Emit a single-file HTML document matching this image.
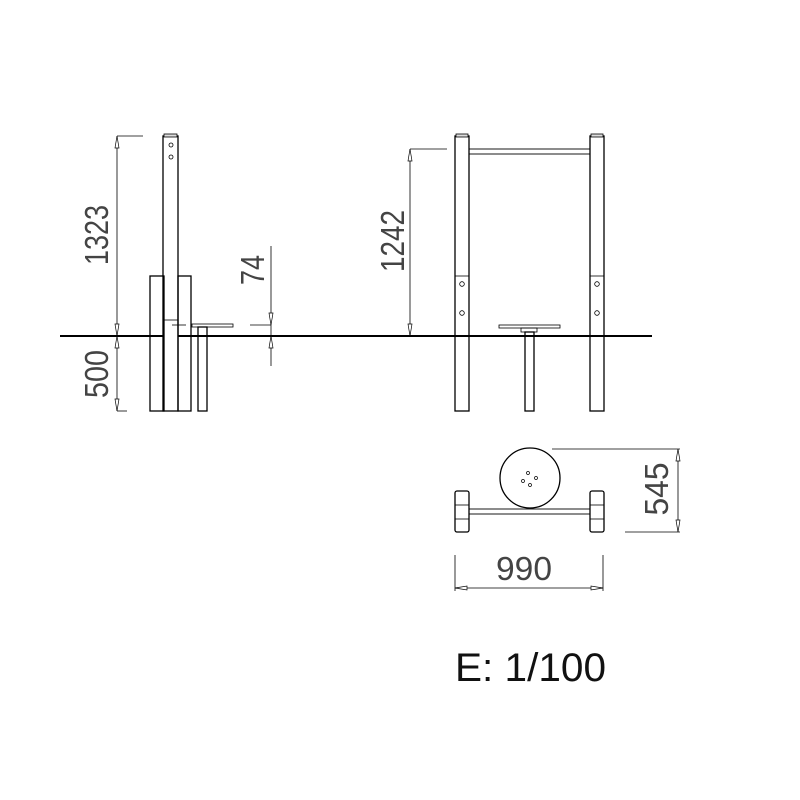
<!DOCTYPE html>
<html><head><style>body{margin:0;background:#fff}svg{display:block}</style></head><body>
<svg width="800" height="800" viewBox="0 0 800 800" xmlns="http://www.w3.org/2000/svg" font-family="Liberation Sans, sans-serif">
<g fill="none" stroke="#000" stroke-width="1.3">
<line x1="60" y1="336" x2="652" y2="336" stroke-width="2"/>
<rect x="163" y="136" width="15" height="275" fill="#fff"/>
<rect x="164" y="134" width="13" height="3" fill="#ddd" stroke-width="0.8"/>
<circle cx="171" cy="145" r="2" stroke-width="0.8"/><circle cx="171" cy="157" r="2" stroke-width="0.8"/>
<rect x="150" y="276" width="14" height="135"/>
<rect x="178" y="276" width="13" height="135"/>
<line x1="164" y1="320" x2="178" y2="320" stroke-width="0.8"/>
<line x1="172" y1="325" x2="186" y2="325" stroke-width="0.8"/>
<rect x="192" y="324" width="41" height="3" stroke-width="0.8"/>
<rect x="198" y="327" width="9" height="84"/>
<line x1="117" y1="136" x2="117" y2="411" stroke-width="0.8"/>
<line x1="117" y1="136" x2="143" y2="136" stroke-width="0.8"/>
<line x1="117" y1="411" x2="127" y2="411" stroke-width="0.8"/>
<line x1="271" y1="246" x2="271" y2="366" stroke-width="0.8"/>
<line x1="250" y1="325" x2="271" y2="325" stroke-width="0.8"/>
<rect x="455" y="136" width="14" height="275"/>
<rect x="590" y="136" width="14" height="275"/>
<rect x="456" y="134" width="12" height="3" fill="#ddd" stroke-width="0.8"/>
<rect x="591" y="134" width="12" height="3" fill="#ddd" stroke-width="0.8"/>
<rect x="469" y="149" width="121" height="5" stroke-width="0.9"/>
<line x1="455" y1="276" x2="469" y2="276" stroke-width="0.8"/>
<line x1="590" y1="276" x2="604" y2="276" stroke-width="0.8"/>
<circle cx="462" cy="284" r="2.3" stroke-width="0.8"/><circle cx="462" cy="313" r="2.3" stroke-width="0.8"/>
<circle cx="597" cy="284" r="2.3" stroke-width="0.8"/><circle cx="597" cy="313" r="2.3" stroke-width="0.8"/>
<rect x="499" y="325" width="61" height="3" stroke-width="0.8"/>
<rect x="521" y="328" width="16" height="4" stroke-width="0.8"/>
<rect x="525" y="332" width="9" height="79"/>
<line x1="410" y1="149" x2="410" y2="336" stroke-width="0.8"/>
<line x1="410" y1="149" x2="447" y2="149" stroke-width="0.8"/>
<circle cx="530" cy="478" r="30"/>
<circle cx="528" cy="473" r="1.5" stroke-width="0.7"/><circle cx="536" cy="478" r="1.5" stroke-width="0.7"/>
<circle cx="523" cy="481" r="1.5" stroke-width="0.7"/><circle cx="530" cy="485" r="1.5" stroke-width="0.7"/>
<rect x="455" y="491" width="14" height="41" rx="2"/>
<rect x="590" y="491" width="14" height="41" rx="2"/>
<rect x="455" y="505" width="14" height="14" stroke-width="0.8"/>
<rect x="590" y="505" width="14" height="14" stroke-width="0.8"/>
<rect x="469" y="509" width="121" height="5" stroke-width="0.9"/>
<line x1="552" y1="449" x2="680" y2="449" stroke-width="0.8"/>
<line x1="625" y1="532" x2="680" y2="532" stroke-width="0.8"/>
<line x1="678" y1="449" x2="678" y2="532" stroke-width="0.8"/>
<line x1="455" y1="555" x2="455" y2="591" stroke-width="0.8"/>
<line x1="603" y1="555" x2="603" y2="591" stroke-width="0.8"/>
<line x1="455" y1="588" x2="603" y2="588" stroke-width="0.8"/>
</g>
<g fill="#fff" stroke="#000" stroke-width="0.7">
<polygon points="117,136 115,148 119,148"/><polygon points="117,336 115,324 119,324"/>
<polygon points="117,336 115,348 119,348"/><polygon points="117,411 115,399 119,399"/>
<polygon points="271,325 269,313 273,313"/><polygon points="271,336 269,348 273,348"/>
<polygon points="410,149 408,161 412,161"/><polygon points="410,336 408,324 412,324"/>
<polygon points="678,449 676,461 680,461"/><polygon points="678,532 676,520 680,520"/>
<polygon points="455,588 467,586 467,590"/><polygon points="603,588 591,586 591,590"/>
</g>
<g fill="#444" font-size="33" lengthAdjust="spacingAndGlyphs">
<text transform="translate(108,235) rotate(-90)" text-anchor="middle" textLength="60" lengthAdjust="spacingAndGlyphs">1323</text>
<text transform="translate(108,374) rotate(-90)" text-anchor="middle" textLength="48" lengthAdjust="spacingAndGlyphs">500</text>
<text transform="translate(264,270) rotate(-90)" text-anchor="middle" textLength="30" lengthAdjust="spacingAndGlyphs">74</text>
<text transform="translate(404,241) rotate(-90)" text-anchor="middle" textLength="62" lengthAdjust="spacingAndGlyphs">1242</text>
<text transform="translate(668,489) rotate(-90)" text-anchor="middle" textLength="53" lengthAdjust="spacingAndGlyphs">545</text>
<text x="524" y="580" text-anchor="middle" textLength="56" lengthAdjust="spacingAndGlyphs">990</text>
</g>
<text x="455" y="681" font-size="40" fill="#111" textLength="151" lengthAdjust="spacingAndGlyphs">E: 1/100</text>
</svg>
</body></html>
